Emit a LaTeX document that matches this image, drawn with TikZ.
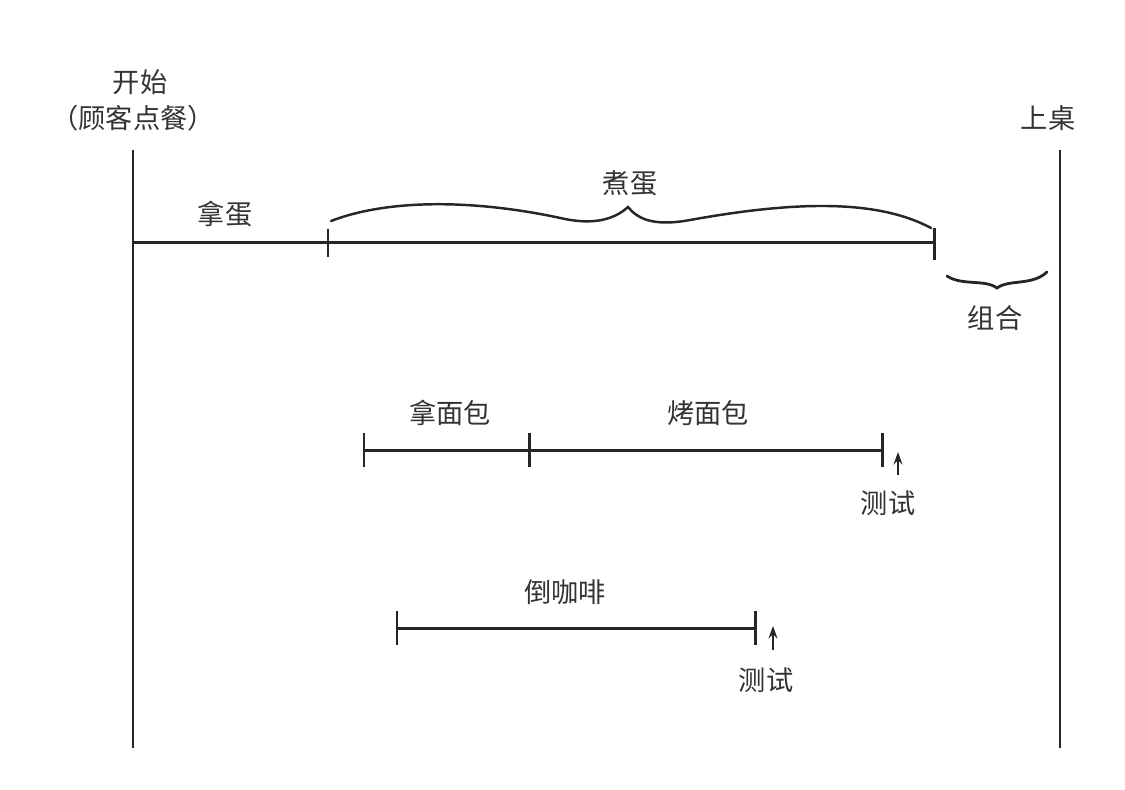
\documentclass[tikz,border=0pt]{standalone}
\usepackage{fontspec}
\setmainfont{Noto Sans CJK SC}
\usetikzlibrary{arrows.meta}
\begin{document}
\begin{tikzpicture}[x=0.02cm,y=-0.02cm,
  lbl/.style={font=\fontsize{15.5}{18}\selectfont, text=black!80, inner sep=0pt},
  axisline/.style={line width=1.5pt, draw=black!85},
  bar/.style={line width=1.7pt, draw=black!85},
  bracecurve/.style={line width=1.4pt, draw=black!85, line cap=round},
  testarrow/.style={line width=1.3pt, draw=black!85, -{Stealth[length=7pt,width=5pt]}}]
\useasboundingbox[fill=white] (0,0) rectangle (1125,789);

% vertical start / end lines
\coordinate (s0) at (133,150); \coordinate (s1) at (133,748);
\coordinate (e0) at (1060,150); \coordinate (e1) at (1060,748);
\draw[axisline] (s0) -- (s1);
\draw[axisline] (e0) -- (e1);
\node[lbl] (start1) at (140,82) {开始};
\node[lbl] (start2) at (133,118) {（顾客点餐）};
\node[lbl] (serve) at (1048,118) {上桌};

% egg line
\coordinate (a0) at (133,242); \coordinate (a1) at (328,242); \coordinate (a2) at (934,242);
\draw[bar] (a0) -- (a2);
\draw[bar] (a1) ++(0,-13) -- ++(0,28);
\draw[bar] (a2) ++(0,-14) -- ++(0,32);
\node[lbl] (getegg) at (225,214) {拿蛋};
\node[lbl] (boilegg) at (630,183) {煮蛋};
\draw[bracecurve] (331,221) .. controls (385,200) and (470,198) .. (565,219)
  .. controls (600,226) and (618,216) .. (628,207)
  .. controls (637,218) and (652,227) .. (690,220)
  .. controls (790,202) and (875,198) .. (931,228);

% combine brace
\draw[bracecurve, line width=1.6pt] (947,276) .. controls (962,286) and (985,279) .. (997,288)
  .. controls (1009,279) and (1032,286) .. (1047,272);
\node[lbl] (combine) at (995,318) {组合};

% bread line
\coordinate (b0) at (364,450); \coordinate (b1) at (529,450); \coordinate (b2) at (882,450);
\draw[bar] (b0) -- (b2);
\foreach \p in {b0,b1,b2} \draw[bar] (\p) ++(0,-17) -- ++(0,34);
\node[lbl] (getbread) at (450,413) {拿面包};
\node[lbl] (toast) at (708,413) {烤面包};
\coordinate (t1a) at (898,475); \coordinate (t1b) at (898,452);
\draw[testarrow] (t1a) -- (t1b);
\node[lbl] (test1) at (888,503) {测试};

% coffee line
\coordinate (c0) at (397,628); \coordinate (c1) at (755,628);
\draw[bar] (c0) -- (c1);
\foreach \p in {c0,c1} \draw[bar] (\p) ++(0,-17) -- ++(0,34);
\node[lbl] (coffee) at (565,592) {倒咖啡};
\coordinate (t2a) at (773,650); \coordinate (t2b) at (773,626);
\draw[testarrow] (t2a) -- (t2b);
\node[lbl] (test2) at (766,680) {测试};
\end{tikzpicture}
\end{document}
